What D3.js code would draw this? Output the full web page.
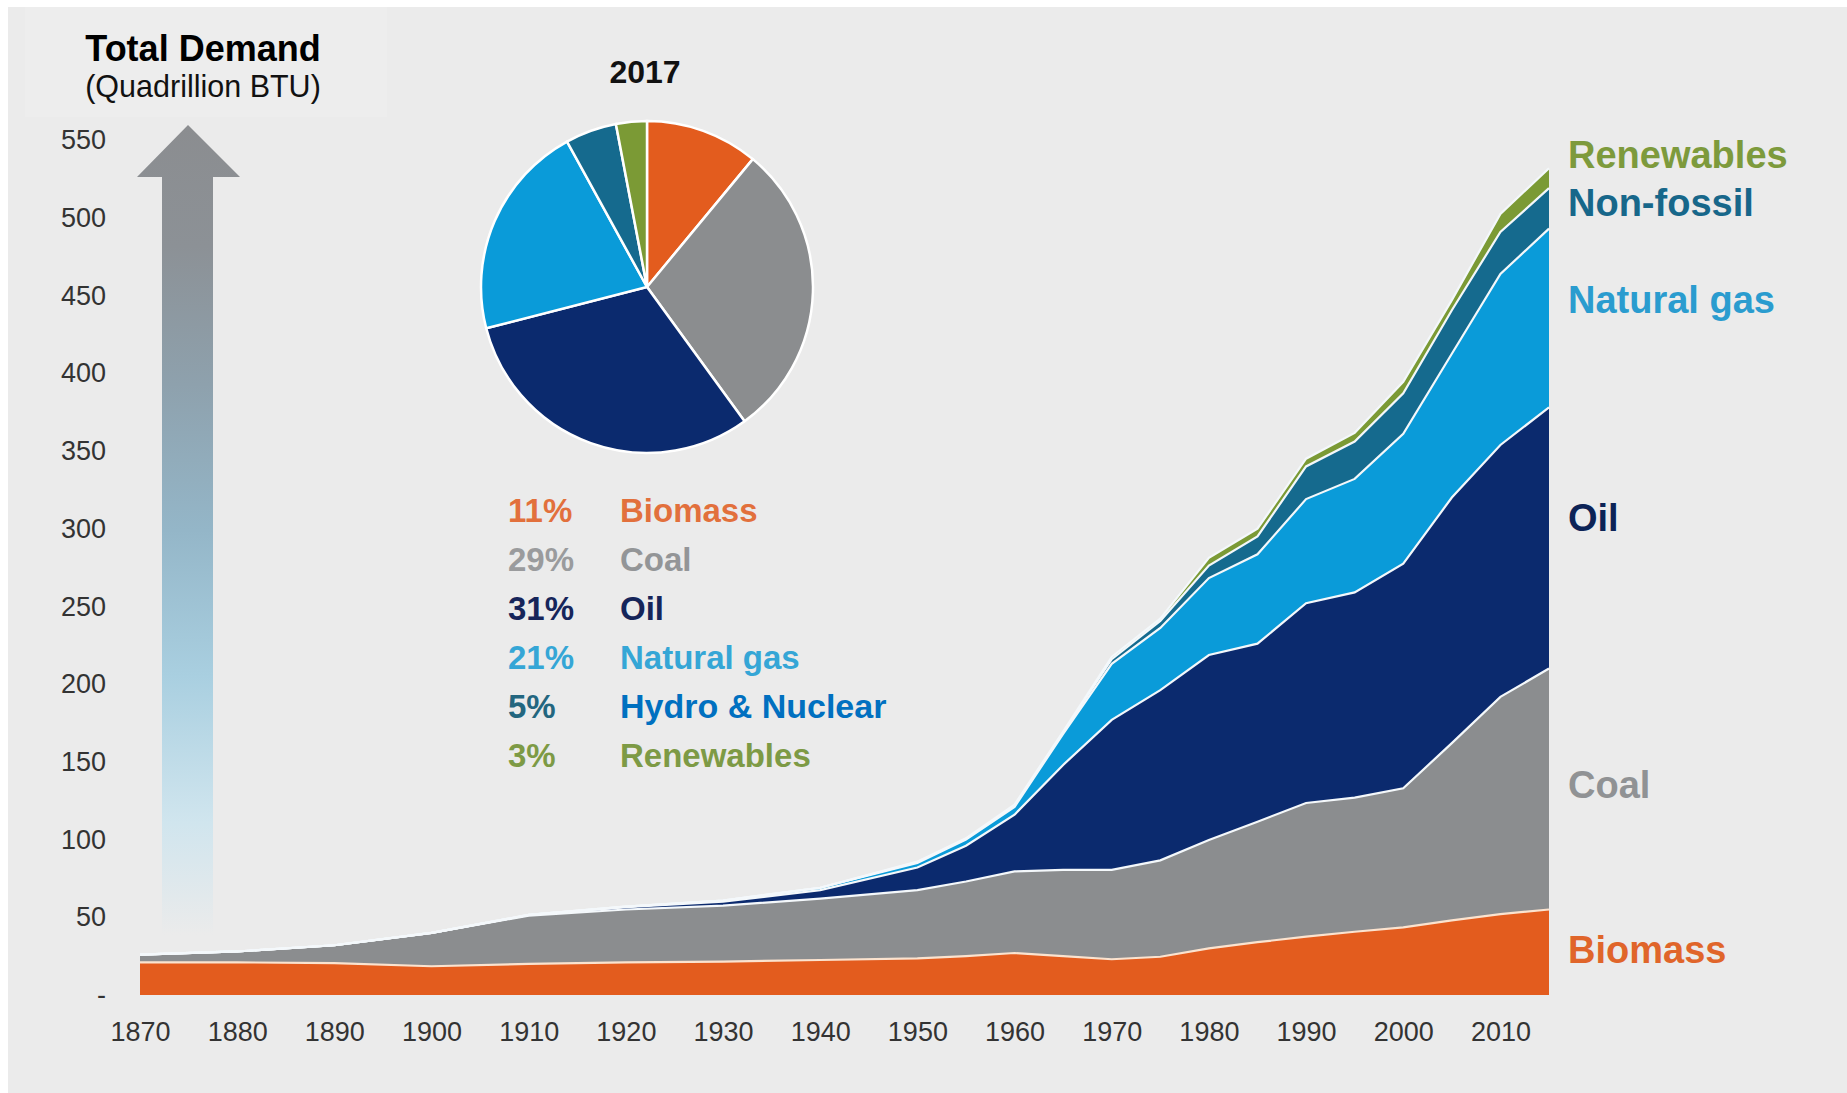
<!DOCTYPE html>
<html>
<head>
<meta charset="utf-8">
<script src="https://cdn.jsdelivr.net/npm/d3@7"></script>
<style>
  body { margin: 0; background: #ffffff; }
  svg { display: block; font-family: "Liberation Sans", Arial, sans-serif; }
</style>
</head>
<body>
<div id="chart"></div>
<script>
// data (quadrillion BTU, per fuel, not stacked)
const years      = [1870, 1880, 1890, 1900, 1910, 1920, 1930, 1940, 1950, 1955, 1960, 1965, 1970, 1975, 1980, 1985, 1990, 1995, 2000, 2005, 2010, 2015];
const biomass    = [21, 21, 20.5, 18.5, 20, 21, 21.5, 22.5, 23.5, 25, 27, 25, 23, 24.6, 30, 34, 37.5, 40.7, 43.5, 48, 52, 55];
const coal       = [5, 7, 11.5, 21.5, 31, 34, 36, 39.5, 44, 48, 52.5, 55.5, 57.5, 62, 69.7, 77.5, 86, 86.3, 89.5, 114, 139.8, 155];
const oil        = [0, 0, 0, 0, 0.5, 1.5, 2.5, 5.5, 14.5, 23, 36.5, 67.5, 96.5, 109.5, 119, 114.5, 128.5, 132, 144.5, 158, 162, 168];
const gas        = [0, 0, 0, 0, 0, 0.3, 0.8, 1.5, 3, 4, 5, 20, 36, 40, 49.5, 57.5, 67, 73, 83.5, 92.5, 110, 115];
const nonFossil  = [0, 0, 0, 0, 0, 0, 0, 0, 0.5, 0.5, 1, 1, 3, 4.5, 8, 11.5, 21, 24, 26, 28, 27, 26];
const renewables = [0, 0, 0, 0, 0, 0, 0, 0, 0.3, 0.3, 0.5, 0.5, 1.5, 1.5, 5, 5, 5, 5.6, 7.5, 6.5, 11.7, 12.8];

const keys       = ["biomass", "coal", "oil", "gas", "nonFossil", "renewables"];
const colors     = ["#e35c1e", "#8b8d8f", "#0b2a6e", "#0a9bd9", "#156a8e", "#7b9a35"];

// pie for 2017
const pieShares  = [11, 29, 31, 21, 5, 3];
const pieNames   = ["Biomass", "Coal", "Oil", "Natural gas", "Hydro & Nuclear", "Renewables"];
const pctColors  = ["#e2703c", "#9a9b9d", "#16255a", "#35a6d6", "#23667f", "#7d9a45"];
const nameColors = ["#e2703c", "#939597", "#16255a", "#35a6d6", "#0070c0", "#7d9a45"];

// right hand labels
const sideLabels = ["Renewables", "Non-fossil", "Natural gas", "Oil", "Coal", "Biomass"];
const sideColors = ["#7d9a3c", "#17678a", "#2a9ccf", "#0c2356", "#909294", "#e0652a"];
const sideY      = [168, 216, 313, 531, 798, 963];

const yTicks = d3.range(0, 551, 50);
const xTicks = d3.range(1870, 2011, 10);

const W = 1847, H = 1093;

const svg = d3.select("#chart")
  .append("svg")
    .attr("width", W)
    .attr("height", H);

// background
svg.append("rect")
  .attr("x", 8).attr("y", 7)
  .attr("width", W - 8).attr("height", H - 7)
  .attr("fill", "#ebebeb");
svg.append("rect")
  .attr("x", 25).attr("y", 7)
  .attr("width", 362).attr("height", 110)
  .attr("fill", "#ededed");

// scales
const x = d3.scaleLinear().domain([1870, 2015]).range([140, 1549]);
const y = d3.scaleLinear().domain([0, 550]).range([995, 140]);

// gradient arrow
const defs = svg.append("defs");
const grad = defs.append("linearGradient")
  .attr("id", "arrowGrad")
  .attr("gradientUnits", "userSpaceOnUse")
  .attr("x1", 0).attr("y1", 125).attr("x2", 0).attr("y2", 935);
[[0, "#8b8d90"], [0.15, "#8c9196"], [0.32, "#8ea1ad"], [0.5, "#94b6c8"], [0.68, "#a9cfe0"], [0.86, "#d0e5ee"], [1, "#ebebeb"]]
  .forEach(s => grad.append("stop").attr("offset", s[0]).attr("stop-color", s[1]));

svg.append("path")
  .attr("d", "M188,125 L240,177 L213,177 L213,935 L162,935 L162,177 L137,177 Z")
  .attr("fill", "url(#arrowGrad)");

// title
svg.append("text")
  .attr("x", 203).attr("y", 61)
  .attr("text-anchor", "middle")
  .style("font-size", "36px").style("font-weight", "bold")
  .attr("fill", "#000")
  .text("Total Demand");
svg.append("text")
  .attr("x", 203).attr("y", 97)
  .attr("text-anchor", "middle")
  .style("font-size", "30.5px")
  .attr("fill", "#111")
  .text("(Quadrillion BTU)");

// stacked areas
const table = years.map((yr, i) => ({
  year: yr,
  biomass: biomass[i],
  coal: coal[i],
  oil: oil[i],
  gas: gas[i],
  nonFossil: nonFossil[i],
  renewables: renewables[i]
}));

const series = d3.stack().keys(keys)(table);

const area = d3.area()
  .x(d => x(d.data.year))
  .y0(d => y(d[0]))
  .y1(d => y(d[1]));

const topLine = d3.line()
  .x(d => x(d.data.year))
  .y(d => y(d[1]));

svg.append("g")
  .selectAll("path")
  .data(series)
  .join("path")
    .attr("d", area)
    .attr("fill", (d, i) => colors[i]);

svg.append("g")
  .selectAll("path")
  .data(series)
  .join("path")
    .attr("d", topLine)
    .attr("fill", "none")
    .attr("stroke", (d, i) => i === 0 ? "#fbe3cf" : "#f4f8fb")
    .attr("stroke-width", 2.2);

// axes
const yAxis = svg.append("g")
  .attr("transform", "translate(106,0)")
  .call(d3.axisLeft(y).tickValues(yTicks).tickSize(0).tickPadding(0)
    .tickFormat(d => d === 0 ? "-" : d));
yAxis.select(".domain").remove();
yAxis.selectAll("text")
  .style("font-size", "27px")
  .style("font-family", "'Liberation Sans', Arial, sans-serif")
  .attr("fill", "#333");

const xAxis = svg.append("g")
  .attr("transform", "translate(0,995)")
  .call(d3.axisBottom(x).tickValues(xTicks).tickSize(0).tickPadding(27)
    .tickFormat(d3.format("d")));
xAxis.select(".domain").remove();
xAxis.selectAll("text")
  .style("font-size", "27px")
  .style("font-family", "'Liberation Sans', Arial, sans-serif")
  .attr("fill", "#333");

// right labels
svg.append("g")
  .selectAll("text")
  .data(sideLabels)
  .join("text")
    .attr("x", 1568)
    .attr("y", (d, i) => sideY[i])
    .style("font-size", "38px")
    .style("font-weight", "bold")
    .attr("fill", (d, i) => sideColors[i])
    .text(d => d);

// pie
const pieG = svg.append("g").attr("transform", "translate(647,287)");
const pie = d3.pie().sort(null).value(d => d);
const arc = d3.arc().innerRadius(0).outerRadius(166);

pieG.selectAll("path")
  .data(pie(pieShares))
  .join("path")
    .attr("d", arc)
    .attr("fill", (d, i) => colors[i])
    .attr("stroke", "#ffffff")
    .attr("stroke-width", 2.5);

svg.append("text")
  .attr("x", 645).attr("y", 83)
  .attr("text-anchor", "middle")
  .style("font-size", "32px").style("font-weight", "bold")
  .attr("fill", "#111")
  .text("2017");

// pie legend
const leg = svg.append("g");
leg.selectAll(".pct")
  .data(pieShares)
  .join("text")
    .attr("class", "pct")
    .attr("x", 508)
    .attr("y", (d, i) => 522 + i * 49)
    .style("font-size", "33px").style("font-weight", "bold")
    .attr("fill", (d, i) => pctColors[i])
    .text(d => d + "%");
leg.selectAll(".name")
  .data(pieNames)
  .join("text")
    .attr("class", "name")
    .attr("x", 620)
    .attr("y", (d, i) => 522 + i * 49)
    .style("font-size", (d, i) => i === 4 ? "34px" : "33px")
    .style("font-weight", "bold")
    .attr("fill", (d, i) => nameColors[i])
    .text(d => d);
</script>
</body>
</html>
